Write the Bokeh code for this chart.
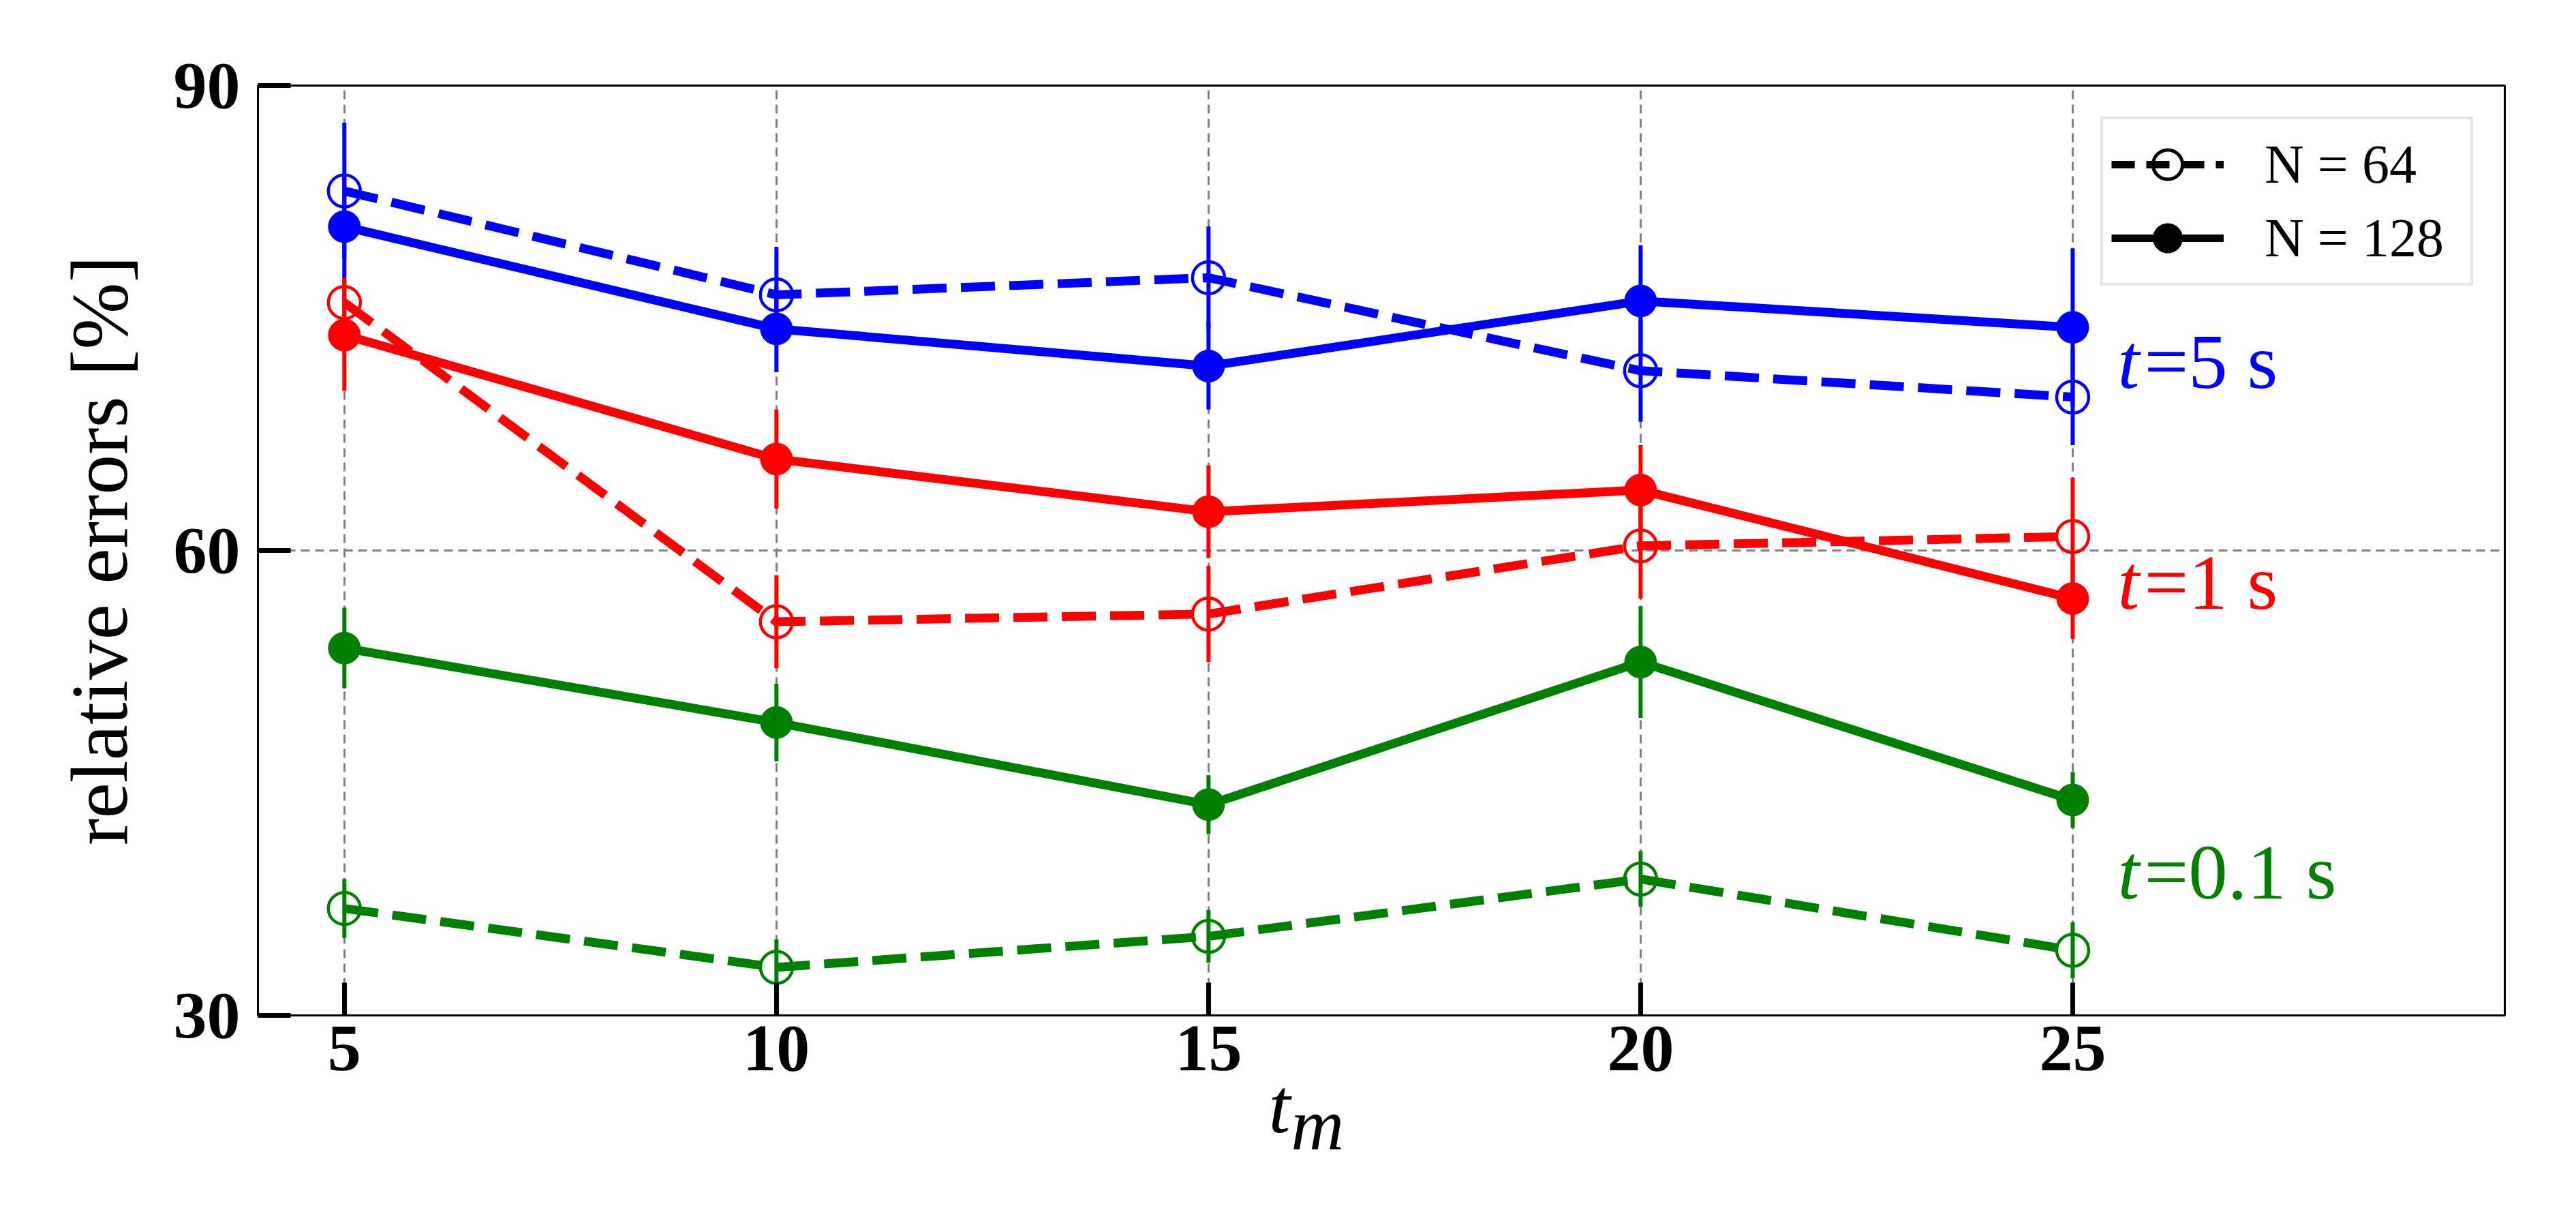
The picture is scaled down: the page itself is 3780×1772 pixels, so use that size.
from bokeh.plotting import figure
from bokeh.models import Range1d, FixedTicker, ColumnDataSource, Legend, LegendItem, LinearAxis
from bokeh.core.properties import value
from bokeh.embed import file_html
from bokeh.resources import INLINE

# ---------------- data ----------------
tm = [5, 10, 15, 20, 25]
x_ticks = [5, 10, 15, 20, 25]
y_ticks = [30, 60, 90]

blue_n64 = [83.2, 76.5, 77.6, 71.6, 69.9]
blue_n64_err = [4.4, 3.1, 3.3, 3.3, 3.1]
blue_n128 = [80.9, 74.3, 71.9, 76.1, 74.4]
blue_n128_err = [3.4, 2.8, 2.8, 3.6, 5.1]

red_n64 = [76.0, 55.4, 55.9, 60.3, 60.9]
red_n64_err = [1.6, 3.0, 3.1, 3.4, 3.8]
red_n128 = [73.9, 65.9, 62.5, 63.9, 56.9]
red_n128_err = [3.6, 3.2, 3.0, 2.9, 2.6]

green_n64 = [36.9, 33.1, 35.1, 38.8, 34.2]
green_n64_err = [1.9, 1.8, 1.7, 1.8, 1.8]
green_n128 = [53.7, 48.9, 43.6, 52.8, 43.9]
green_n128_err = [2.6, 2.5, 1.9, 3.6, 1.8]

colors = ["#0000ff", "#ff0000", "#008000"]
ann_rest = ["=5 s", "=1 s", "=0.1 s"]
ann_x = [25.52, 25.52, 25.52]
ann_y = [72.2, 57.95, 39.25]
legend_labels = ["N = 64", "N = 128"]
xlabel_main = "t"
xlabel_sub = "m"
xlabel_pos = [15.82, 16.26]

SERIF = "Liberation Serif"
NAN = float("nan")

p = figure(width=3764, height=1756,
           x_range=Range1d(4, 30), y_range=Range1d(30, 90),
           output_backend="svg", toolbar_location=None,
           min_border_left=378, min_border_right=89,
           min_border_top=125, min_border_bottom=267)
p.background_fill_color = "white"
p.border_fill_color = "white"
p.outline_line_color = "black"
p.outline_line_width = 3
p.outline_line_alpha = 1.0

for ax in (p.xaxis[0], p.yaxis[0]):
    ax.major_tick_in = 48
    ax.major_tick_out = 0
    ax.minor_tick_in = 0
    ax.minor_tick_out = 0
    ax.major_tick_line_width = 7
    ax.major_tick_line_color = "black"
    ax.axis_line_width = 3
    ax.axis_line_color = "black"
    ax.major_label_text_font = SERIF
    ax.major_label_text_font_size = "98px"
    ax.major_label_text_font_style = "bold"
    ax.major_label_text_color = "black"

p.xaxis[0].ticker = FixedTicker(ticks=x_ticks)
p.yaxis[0].ticker = FixedTicker(ticks=y_ticks)
p.xaxis[0].major_label_standoff = 16
p.yaxis[0].major_label_standoff = 26

p.yaxis[0].axis_label = "relative errors [%]"
p.yaxis[0].axis_label_text_font = SERIF
p.yaxis[0].axis_label_text_font_size = "118px"
p.yaxis[0].axis_label_text_font_style = "normal"
p.yaxis[0].axis_label_text_color = "black"
p.yaxis[0].axis_label_standoff = 40

p.grid.grid_line_color = "#808080"
p.grid.grid_line_width = 3
p.grid.grid_line_dash = "13 8"

# x-axis label "t_m" drawn as two label-only axes (t, then subscript m)
def label_axis(pos, text, size, standoff):
    a = LinearAxis(ticker=FixedTicker(ticks=[pos]), major_label_overrides={pos: text})
    a.axis_line_color = None
    a.major_tick_line_color = None
    a.minor_tick_line_color = None
    a.major_tick_in = 0
    a.major_tick_out = 0
    a.major_label_standoff = standoff
    a.major_label_text_font = SERIF
    a.major_label_text_font_style = "italic"
    a.major_label_text_font_size = size
    a.major_label_text_color = "black"
    return a

p.add_layout(label_axis(xlabel_pos[0], xlabel_main, "115px", -14), "below")
p.add_layout(label_axis(xlabel_pos[1], xlabel_sub, "108px", -99), "below")

series = [
    (colors[0], blue_n64, blue_n64_err, blue_n128, blue_n128_err),
    (colors[1], red_n64, red_n64_err, red_n128, red_n128_err),
    (colors[2], green_n64, green_n64_err, green_n128, green_n128_err),
]

for color, y64, e64, y128, e128 in series:
    for yv, ev, dashed in ((y64, e64, True), (y128, e128, False)):
        src = ColumnDataSource(dict(
            x=tm, y=yv,
            lo=[a - b for a, b in zip(yv, ev)],
            hi=[a + b for a, b in zip(yv, ev)],
        ))
        p.segment(x0="x", y0="lo", x1="x", y1="hi", source=src,
                  line_color=color, line_width=6)
        p.line(x="x", y="y", source=src, line_color=color, line_width=13,
               line_dash=("50 21" if dashed else "solid"), line_join="round")
        if dashed:
            p.scatter(x="x", y="y", source=src, marker="circle", size=47,
                      fill_color=None, line_color=color, line_width=4.5)
        else:
            p.scatter(x="x", y="y", source=src, marker="circle", size=47,
                      fill_color=color, line_color=color, line_width=1)

# legend proxies (black, no visible data)
l64 = p.line(x=[NAN], y=[NAN], line_color="black", line_width=11, line_dash="34 17")
m64 = p.scatter(x=[NAN], y=[NAN], marker="circle", size=44, fill_color=None,
                line_color="black", line_width=5)
l128 = p.line(x=[NAN], y=[NAN], line_color="black", line_width=11)
m128 = p.scatter(x=[NAN], y=[NAN], marker="circle", size=44, fill_color="black",
                 line_color="black", line_width=1)

legend = Legend(items=[LegendItem(label=legend_labels[0], renderers=[l64, m64]),
                       LegendItem(label=legend_labels[1], renderers=[l128, m128])],
                location="top_right")
legend.margin = 46
legend.padding = 12
legend.spacing = 0
legend.glyph_width = 165
legend.glyph_height = 108
legend.label_height = 60
legend.label_width = 290
legend.label_standoff = 60
legend.label_text_font = SERIF
legend.label_text_font_size = "80px"
legend.label_text_color = "black"
legend.border_line_color = "#cccccc"
legend.border_line_width = 4
legend.background_fill_color = "white"
legend.background_fill_alpha = 0.8
p.add_layout(legend)

# curve annotations
asrc = ColumnDataSource(dict(x=ann_x, y=ann_y, t=["t", "t", "t"], rest=ann_rest, c=colors))
p.text(x="x", y="y", text="t", source=asrc, text_color="c",
       text_font=value(SERIF), text_font_style="italic", text_font_size="115px",
       text_baseline="alphabetic", text_align="left")
p.text(x="x", y="y", text="rest", source=asrc, text_color="c", x_offset=39,
       text_font=value(SERIF), text_font_style="normal", text_font_size="115px",
       text_baseline="alphabetic", text_align="left")

with open("out.html", "w", encoding="utf-8") as f:
    f.write(file_html(p, INLINE))
